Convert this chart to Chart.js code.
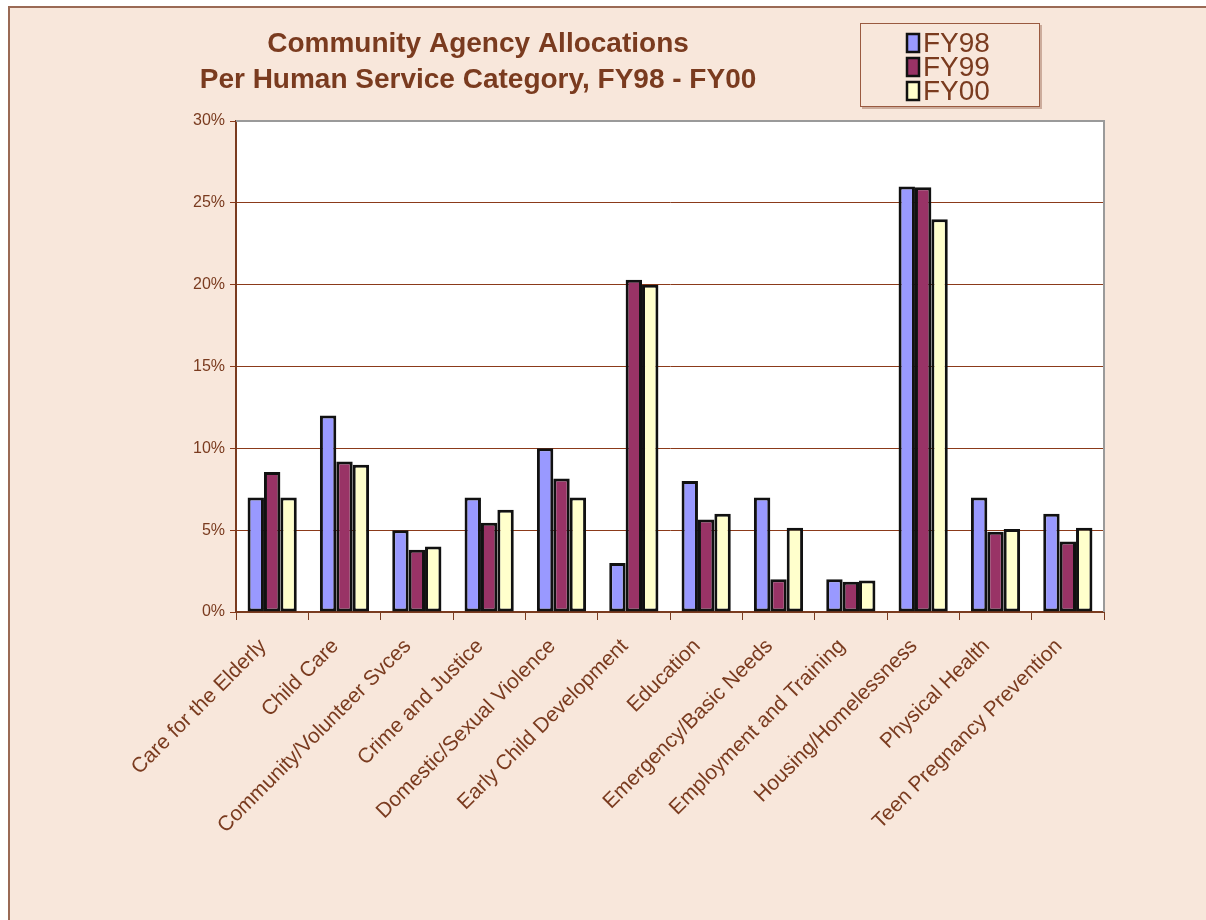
<!DOCTYPE html>
<html>
<head>
<meta charset="utf-8">
<script src="https://cdn.jsdelivr.net/npm/chart.js@4.4.1/dist/chart.umd.min.js"></script>
<style>
  html, body { margin: 0; padding: 0; background: #fff; }
  #page {
    position: absolute; left: 8px; top: 6px; width: 1198px; height: 914px;
    background: #f8e7db; border-left: 2px solid #9a6a55; border-top: 2px solid #9a6a55;
  }
  #wrap { position: absolute; left: 0; top: 0; width: 1206px; height: 920px; }
</style>
</head>
<body>
<div id="page"></div>
<div id="wrap"><canvas id="chart" width="1206" height="920"></canvas></div>
<script>
// Chart data
const categories = [
    'Care for the Elderly', 'Child Care', 'Community/Volunteer Svces', 'Crime and Justice',
    'Domestic/Sexual Violence', 'Early Child Development', 'Education', 'Emergency/Basic Needs',
    'Employment and Training', 'Housing/Homelessness', 'Physical Health', 'Teen Pregnancy Prevention'
];
const fy98 = [7.0, 12.0, 5.0, 7.0, 10.0, 3.0, 8.0, 7.0, 2.0, 26.0, 7.0, 6.0];
const fy99 = [8.55, 9.2, 3.8, 5.45, 8.15, 20.3, 5.65, 2.0, 1.85, 25.95, 4.9, 4.3];
const fy00 = [7.0, 9.0, 4.0, 6.25, 7.0, 20.0, 6.0, 5.15, 1.93, 24.0, 5.07, 5.15];
const seriesNames = ['FY98', 'FY99', 'FY00'];
const yTicks = [0, 5, 10, 15, 20, 25, 30];

const brown = '#7a3b1f';
const colors = ['#9999ff', '#993366', '#ffffcc'];
const fontFamily = '"Liberation Sans", Arial, sans-serif';

// title, legend box and plot frame
const decorPlugin = {
    id: 'decor',
    beforeDatasetsDraw(chart) {
        const { ctx, chartArea } = chart;
        ctx.save();
        ctx.strokeStyle = '#9a9a9a';
        ctx.lineWidth = 2;
        ctx.beginPath();
        ctx.moveTo(chartArea.left, chartArea.top);
        ctx.lineTo(chartArea.right, chartArea.top);
        ctx.lineTo(chartArea.right, chartArea.bottom);
        ctx.stroke();
        ctx.restore();
    },
    afterDraw(chart) {
        const ctx = chart.ctx;
        ctx.save();
        ctx.fillStyle = brown;
        ctx.font = 'bold 28px ' + fontFamily;
        ctx.textAlign = 'center';
        ctx.textBaseline = 'middle';
        ctx.fillText('Community Agency Allocations', 478, 44);
        ctx.fillText('Per Human Service Category, FY98 - FY00', 478, 80);

        // legend box
        ctx.fillStyle = 'rgba(150,100,80,0.45)';
        ctx.fillRect(862, 25, 180, 84);
        ctx.fillStyle = '#f8e7db';
        ctx.fillRect(860, 23, 180, 84);
        ctx.strokeStyle = '#9a5a40';
        ctx.lineWidth = 1;
        ctx.strokeRect(860.5, 23.5, 179, 83);
        ctx.font = '28px ' + fontFamily;
        ctx.textAlign = 'left';
        seriesNames.forEach((name, i) => {
            const y = 43 + i * 24;
            ctx.fillStyle = colors[i];
            ctx.fillRect(907, y - 9, 12, 18);
            ctx.strokeStyle = '#111';
            ctx.lineWidth = 2.5;
            ctx.strokeRect(907, y - 9, 12, 18);
            ctx.fillStyle = brown;
            ctx.fillText(name, 923, y + 1);
        });
        ctx.restore();
    }
};

const whiteArea = {
    id: 'whiteArea',
    beforeDraw(chart) {
        const { ctx, chartArea } = chart;
        ctx.save();
        ctx.fillStyle = '#fff';
        ctx.fillRect(chartArea.left, chartArea.top, chartArea.right - chartArea.left, chartArea.bottom - chartArea.top);
        ctx.restore();
    }
};

new Chart(document.getElementById('chart').getContext('2d'), {
    type: 'bar',
    data: {
        labels: categories,
        datasets: [fy98, fy99, fy00].map((d, i) => ({
            label: seriesNames[i],
            data: d,
            backgroundColor: colors[i],
            borderColor: '#111',
            borderWidth: 3,
            borderSkipped: false,
            categoryPercentage: 0.68,
            barPercentage: 1.0
        }))
    },
    options: {
        responsive: false,
        animation: false,
        layout: { padding: { top: 121, left: 0, right: 102, bottom: 0 } },
        plugins: {
            legend: { display: false },
            title: { display: false },
            tooltip: { enabled: false }
        },
        scales: {
            x: {
                grid: { drawOnChartArea: false, color: brown, tickLength: 8, offset: true },
                border: { color: brown, width: 2 },
                ticks: {
                    color: brown,
                    font: { family: fontFamily, size: 21 },
                    minRotation: 45, maxRotation: 45, padding: 14, labelOffset: -9
                },
                afterFit(axis) { axis.height = 308; }
            },
            y: {
                min: 0, max: 30,
                afterBuildTicks(axis) { axis.ticks = yTicks.map(v => ({ value: v })); },
                grid: { color: '#8b3a1a', tickLength: 6, lineWidth: 1 },
                border: { color: brown, width: 2 },
                ticks: {
                    color: brown,
                    font: { family: fontFamily, size: 16 },
                    padding: 5,
                    callback: v => v + '%'
                },
                afterFit(axis) { axis.width = 236; }
            }
        }
    },
    plugins: [whiteArea, decorPlugin]
});
</script>
</body>
</html>
